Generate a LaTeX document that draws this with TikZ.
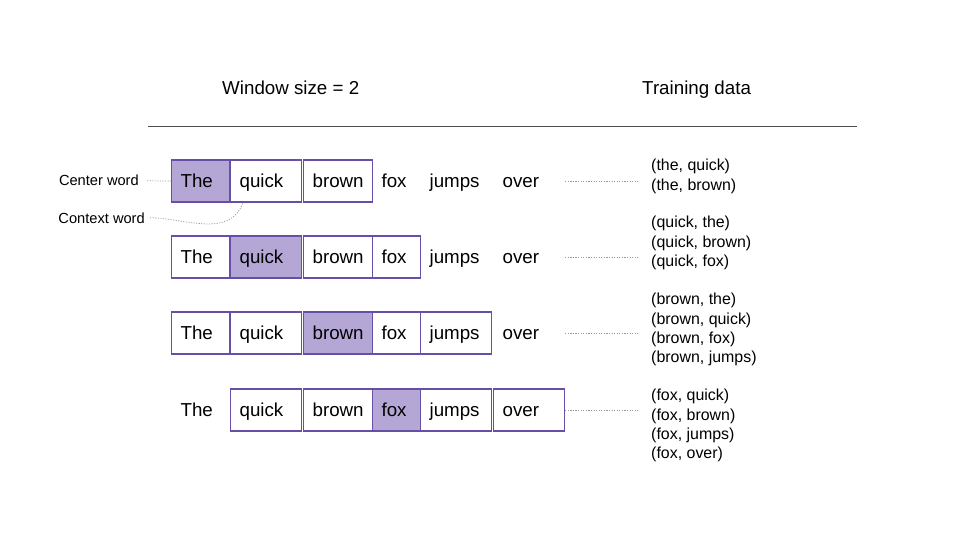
\documentclass[tikz,border=0pt]{standalone}
\usepackage{fontspec}
\setmainfont{Liberation Sans}
\definecolor{boxline}{HTML}{674EA7}
\definecolor{boxfill}{HTML}{B4A7D6}
\definecolor{dotgray}{HTML}{999999}
\tikzset{
  word/.style={anchor=west,font=\fontsize{16}{19}\selectfont,text height=12.5pt,text depth=2pt,inner xsep=0.27cm,minimum height=1.26cm,line width=1pt},
  kind/.code={\ifcase#1\relax\or\tikzset{draw=boxline}\or\tikzset{draw=boxline,fill=boxfill}\fi},
  pair/.style={anchor=north west,align=left,inner sep=0pt,font=\fontsize{13.6}{16.5}\selectfont},
  tag/.style={anchor=base east,inner sep=0pt,font=\fontsize{12.5}{15}\selectfont},
  head/.style={anchor=base west,inner sep=0pt,font=\fontsize{16}{19}\selectfont},
  dotline/.style={dotgray,line width=0.6pt,dash pattern=on 1pt off 1.2pt},
}
\begin{document}
\begin{tikzpicture}[x=0.03cm,y=-0.03cm]
\useasboundingbox (0,0) rectangle (960,540);
\node[head] (wintitle) at (222,95) {Window size = 2};
\node[head] (datatitle) at (642,95) {Training data};
\draw[line width=0.7pt,black!70] (148,126)--(857,126);
% sentence rows: row/y/center/first/last
\foreach \r/\y/\c/\lo/\hi in {1/181/1/1/3,2/257/2/1/4,3/333/3/1/5,4/410/4/2/6}{
\foreach \w/\x/\tw [count=\i] in {The/171/1.2,quick/230/1.59,brown/303/1.53,fox/372/0.9,jumps/420/1.59,over/493/1.59}{
\pgfmathtruncatemacro\k{\i==\c ? 2 : ((\i>=\lo && \i<=\hi) ? 1 : 0)}
\node[word,kind=\k,text width=\tw cm] (w\r\i) at (\x,\y) {\w};
}
}
\node[tag] (lcenter) at (139,186) {Center word};
\node[tag] (lcontext) at (145,223) {Context word};
\draw[dotline,shorten <=0.24cm] (lcenter.east)--(w11.west);
\draw[dotline,shorten <=0.15cm] (lcontext.east) to[out=0,in=-110] (w12.-137);
% training pairs
\node[pair] (d1) at (651,159) {(the, quick)\\(the, brown)};
\node[pair] (d2) at (651,216) {(quick, the)\\(quick, brown)\\(quick, fox)};
\node[pair] (d3) at (651,293) {(brown, the)\\(brown, quick)\\(brown, fox)\\(brown, jumps)};
\node[pair] (d4) at (651,389) {(fox, quick)\\(fox, brown)\\(fox, jumps)\\(fox, over)};
\foreach \r in {1,...,4}
\draw[dotline,shorten >=0.4cm] (w\r6.east)--(w\r6.east -| d\r.west);
\end{tikzpicture}
\end{document}
